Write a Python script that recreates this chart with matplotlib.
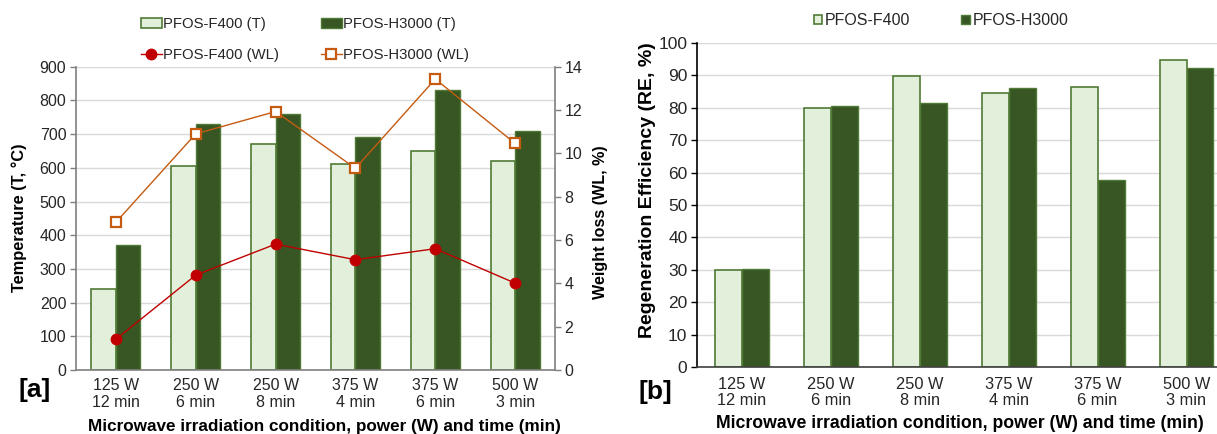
import numpy as np
import matplotlib.pyplot as plt

plt.rcParams['font.family'] = ['Liberation Sans', 'DejaVu Sans']

# data
conditions = ['125 W\n12 min', '250 W\n6 min', '250 W\n8 min',
              '375 W\n4 min', '375 W\n6 min', '500 W\n3 min']
temp_f400 = [240, 605, 670, 610, 650, 620]
temp_h3000 = [370, 730, 760, 690, 830, 710]
wl_f400 = [1.42, 4.38, 5.81, 5.09, 5.60, 4.01]
wl_h3000 = [6.82, 10.90, 11.93, 9.31, 13.43, 10.46]
re_f400 = [30.0, 80.0, 89.8, 84.4, 86.3, 94.7]
re_h3000 = [30.2, 80.6, 81.5, 86.0, 57.7, 92.2]

light = '#E2EFDA'
dark = '#375623'
edge = '#507a35'
red = '#C00000'
orange = '#C55A11'
txt = '#262626'
grid = '#D9D9D9'

W, H = 1217, 434
fig = plt.figure(figsize=(W / 100, H / 100), dpi=100)

def box(x0, y0, x1, y1):
    return [x0 / W, 1 - y1 / H, (x1 - x0) / W, (y1 - y0) / H]

x = np.arange(len(conditions))

# ---------- panel a ----------
ax = fig.add_axes(box(76, 66.7, 555, 370))
bw = 0.307
b1 = ax.bar(x - bw / 2, temp_f400, bw, color=light, edgecolor=edge, linewidth=1.2,
            label='PFOS-F400 (T)', zorder=2)
b2 = ax.bar(x + bw / 2, temp_h3000, bw, color=dark, edgecolor=edge, linewidth=1.0,
            label='PFOS-H3000 (T)', zorder=2)
ax.set_xlim(-0.5, 5.5)
ax.set_ylim(0, 900)
ax.set_yticks(np.arange(0, 901, 100))
ax.yaxis.grid(True, color=grid, linewidth=1.0, zorder=0)
ax.set_axisbelow(True)
ax.set_xticks(x)
ax.set_xticklabels(conditions, fontsize=11.5, color=txt, linespacing=1.1)
ax.tick_params(axis='x', length=0, pad=6)
ax.tick_params(axis='y', labelsize=11.5, labelcolor=txt, length=4, width=1,
               color='#7f7f7f', pad=3)
for s in ['top', 'right']:
    ax.spines[s].set_visible(False)
ax.spines['left'].set_color('#7f7f7f')
ax.spines['bottom'].set_color('#7f7f7f')
ax.spines['left'].set_linewidth(1.2)
ax.spines['bottom'].set_linewidth(1.2)

ax2 = ax.twinx()
l1, = ax2.plot(x, wl_f400, color=red, marker='o', markersize=7.5, linewidth=1.0,
               label='PFOS-F400 (WL)', zorder=3)
l2, = ax2.plot(x, wl_h3000, color=orange, marker='s', markersize=7, markerfacecolor='white',
               markeredgewidth=1.6, linewidth=1.0, label='PFOS-H3000 (WL)', zorder=3)
ax2.set_ylim(0, 14)
ax2.set_yticks(np.arange(0, 15, 2))
ax2.tick_params(axis='y', labelsize=11.5, labelcolor=txt, length=4, width=1,
                color='#7f7f7f', pad=3)
for s in ['top', 'left', 'bottom']:
    ax2.spines[s].set_visible(False)
ax2.spines['right'].set_color('#7f7f7f')
ax2.spines['right'].set_linewidth(1.2)

fig.legend([b1, l1, b2, l2],
           ['PFOS-F400 (T)', 'PFOS-F400 (WL)', 'PFOS-H3000 (T)', 'PFOS-H3000 (WL)'],
           ncol=2, loc='center', bbox_to_anchor=(305 / W, 1 - 39.5 / H),
           frameon=False, fontsize=10.7, handlelength=1.4, handletextpad=0.1,
           columnspacing=2.8, labelspacing=1.15, borderpad=0, labelcolor=txt)

fig.text(19 / W, 1 - 218 / H, 'Temperature (T, °C)', rotation=90, ha='center',
         va='center', fontsize=11.8, fontweight='bold', color='black')
fig.text(600 / W, 1 - 222 / H, 'Weight loss (WL, %)', rotation=90, ha='center',
         va='center', fontsize=11.6, fontweight='bold', color='black')
fig.text(324.7 / W, 1 - 426.7 / H,
         'Microwave irradiation condition, power (W) and time (min)',
         ha='center', va='center', fontsize=12.3, fontweight='bold', color='black')
fig.text(35 / W, 1 - 390 / H, '[a]', ha='center', va='center', fontsize=19,
         fontweight='bold', color='black')

# ---------- panel b ----------
bx = fig.add_axes(box(697.2, 42.7, 1231, 367.3))
bw2 = 0.303
c1 = bx.bar(x - bw2 / 2, re_f400, bw2, color=light, edgecolor=edge, linewidth=1.2,
            label='PFOS-F400', zorder=2)
c2 = bx.bar(x + bw2 / 2, re_h3000, bw2, color=dark, edgecolor=edge, linewidth=1.0,
            label='PFOS-H3000', zorder=2)
bx.set_xlim(-0.5, 5.5)
bx.set_ylim(0, 100)
bx.set_yticks(np.arange(0, 101, 10))
bx.yaxis.grid(True, color=grid, linewidth=1.0, zorder=0)
bx.set_axisbelow(True)
bx.set_xticks(x)
bx.set_xticklabels(conditions, fontsize=11.8, color=txt, linespacing=1.1)
bx.tick_params(axis='x', length=0, pad=7)
bx.tick_params(axis='y', labelsize=12.5, labelcolor=txt, length=4, width=1,
               color='black', pad=3)
for s in ['top', 'right']:
    bx.spines[s].set_visible(False)
bx.spines['left'].set_color('black')
bx.spines['bottom'].set_color('#404040')
bx.spines['left'].set_linewidth(1.2)
bx.spines['bottom'].set_linewidth(1.2)

fig.legend([c1, c2], ['PFOS-F400', 'PFOS-H3000'], ncol=2, loc='center',
           bbox_to_anchor=(941 / W, 1 - 20.7 / H), frameon=False, fontsize=11.5,
           handlelength=0.55, handleheight=0.55, handletextpad=0.15,
           columnspacing=3.2, borderpad=0, labelcolor=txt)

fig.text(647 / W, 1 - 190 / H, 'Regeneration Efficiency (RE, %)', rotation=90,
         ha='center', va='center', fontsize=14, fontweight='bold', color='black')
fig.text(960 / W, 1 - 424 / H,
         'Microwave irradiation condition, power (W) and time (min)',
         ha='center', va='center', fontsize=12.7, fontweight='bold', color='black')
fig.text(655 / W, 1 - 392 / H, '[b]', ha='center', va='center', fontsize=19,
         fontweight='bold', color='black')

fig.savefig('out.png', dpi=100)
